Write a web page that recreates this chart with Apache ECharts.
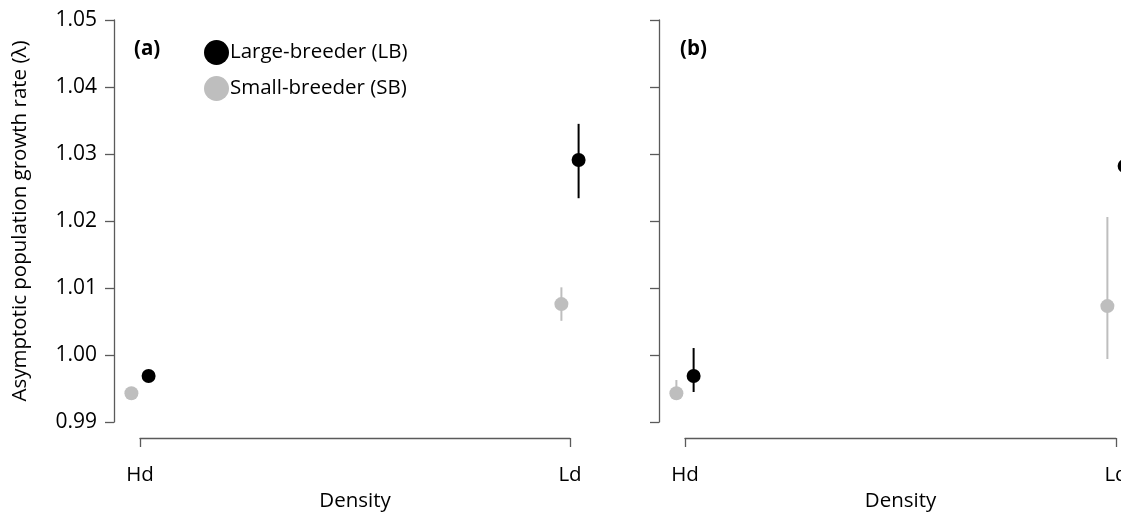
<!DOCTYPE html>
<html>
<head>
<meta charset="utf-8">
<script src="https://cdn.jsdelivr.net/npm/echarts@6/dist/echarts.min.js"></script>
<style>
  html, body { margin: 0; padding: 0; background: #fff; }
  #chart { width: 1121px; height: 512px; }
</style>
</head>
<body>
<div id="chart"></div>
<script>
// categories and tick labels
const densityLabels = ['Hd', 'Ld'];
const yTicks = [0.99, 1.00, 1.01, 1.02, 1.03, 1.04, 1.05];
const panelTags = ['(a)', '(b)'];
const groupNames = ['Large-breeder (LB)', 'Small-breeder (SB)'];

// panel (a): lambda, lower, upper  (Hd, Ld)
const lbA = [0.99687, 1.0291];
const lbALo = [0.9963, 1.0234];
const lbAHi = [0.9974, 1.0345];
const sbA = [0.9943, 1.0076];
const sbALo = [0.9938, 1.0051];
const sbAHi = [0.9948, 1.0101];

// panel (b)
const lbB = [0.99687, 1.0282];
const lbBLo = [0.99448, 1.0225];
const lbBHi = [1.00104, 1.0340];
const sbB = [0.9943, 1.0073];
const sbBLo = [0.9936, 0.9994];
const sbBHi = [0.99627, 1.0206];

const LB_COLOR = '#000000';
const SB_COLOR = '#bebebe';
const AXIS_COLOR = '#5a5a5a';
const FONT = 'Open Sans';
const FS = 20.5;
const JIT = 0.02; // small horizontal dodge between the two groups

const chart = echarts.init(document.getElementById('chart'), null, { renderer: 'canvas' });

function pts(vals, dx) {
  return vals.map((v, i) => [i + 1 + dx, v]);
}
function bars(lo, hi, dx) {
  return lo.map((v, i) => [i + 1 + dx, v, hi[i]]);
}

function errRender(color) {
  return function (params, api) {
    const a = api.coord([api.value(0), api.value(1)]);
    const b = api.coord([api.value(0), api.value(2)]);
    return {
      type: 'line',
      shape: { x1: a[0], y1: a[1], x2: b[0], y2: b[1] },
      style: { stroke: color, lineWidth: 2 }
    };
  };
}

function xAxisFor(idx) {
  return {
    type: 'value', gridIndex: idx, min: 1, max: 2, interval: 1, offset: 16,
    name: 'Density', nameLocation: 'middle', nameGap: 52,
    nameTextStyle: { fontFamily: FONT, fontSize: FS, color: '#000' },
    axisLine: { show: true, lineStyle: { color: AXIS_COLOR, width: 1.3 } },
    axisTick: { show: true, length: 9, lineStyle: { color: AXIS_COLOR, width: 1.3 } },
    axisLabel: {
      margin: 27, fontFamily: FONT, fontSize: FS, color: '#000',
      formatter: v => densityLabels[Math.round(v) - 1] || ''
    },
    splitLine: { show: false }
  };
}

function yAxisFor(idx, showLabels) {
  return {
    type: 'value', gridIndex: idx, min: yTicks[0], max: yTicks[yTicks.length - 1],
    interval: 0.01, offset: 26,
    name: showLabels ? 'Asymptotic population growth rate (λ)' : '',
    nameLocation: 'middle', nameGap: 83,
    nameTextStyle: { fontFamily: FONT, fontSize: FS, color: '#000' },
    axisLine: { show: true, lineStyle: { color: AXIS_COLOR, width: 1.3 } },
    axisTick: { show: true, length: 9, lineStyle: { color: AXIS_COLOR, width: 1.3 } },
    axisLabel: {
      show: showLabels, margin: 17, fontFamily: FONT, fontSize: 21, color: '#000',
      formatter: v => v.toFixed(2)
    },
    splitLine: { show: false }
  };
}

const panels = [
  { lb: lbA, lbLo: lbALo, lbHi: lbAHi, sb: sbA, sbLo: sbALo, sbHi: sbAHi },
  { lb: lbB, lbLo: lbBLo, lbHi: lbBHi, sb: sbB, sbLo: sbBLo, sbHi: sbBHi }
];

const series = [];
panels.forEach((p, i) => {
  series.push({
    name: 'sb-err-' + i, type: 'custom', xAxisIndex: i, yAxisIndex: i,
    data: bars(p.sbLo, p.sbHi, -JIT), encode: { x: 0, y: [1, 2] },
    renderItem: errRender(SB_COLOR), clip: false, z: 2
  });
  series.push({
    name: 'lb-err-' + i, type: 'custom', xAxisIndex: i, yAxisIndex: i,
    data: bars(p.lbLo, p.lbHi, JIT), encode: { x: 0, y: [1, 2] },
    renderItem: errRender(LB_COLOR), clip: false, z: 2
  });
  series.push({
    name: groupNames[1], type: 'scatter', xAxisIndex: i, yAxisIndex: i,
    data: pts(p.sb, -JIT), symbol: 'circle', symbolSize: 14,
    itemStyle: { color: SB_COLOR, opacity: 1 }, clip: false, z: 3
  });
  series.push({
    name: groupNames[0], type: 'scatter', xAxisIndex: i, yAxisIndex: i,
    data: pts(p.lb, JIT), symbol: 'circle', symbolSize: 14,
    itemStyle: { color: LB_COLOR, opacity: 1 }, clip: false, z: 3
  });
});

const option = {
  backgroundColor: '#fff',
  animation: false,
  textStyle: { fontFamily: FONT },
  title: [
    { text: panelTags[0], left: 129, top: 34,
      textStyle: { fontFamily: FONT, fontSize: FS, fontWeight: 'bold', color: '#000' } },
    { text: panelTags[1], left: 675, top: 34,
      textStyle: { fontFamily: FONT, fontSize: FS, fontWeight: 'bold', color: '#000' } }
  ],
  legend: {
    data: [
      { name: groupNames[0], itemStyle: { color: LB_COLOR, opacity: 1 } },
      { name: groupNames[1], itemStyle: { color: SB_COLOR, opacity: 1 } }
    ],
    orient: 'vertical', left: 199, top: 35,
    icon: 'circle', itemWidth: 25, itemHeight: 25, itemGap: 11,
    textStyle: { fontFamily: FONT, fontSize: FS, color: '#000', padding: [0, 0, 0, -4] },
    selectedMode: false
  },
  grid: [
    { left: 140, top: 20, width: 430, height: 402, outerBoundsMode: 'none', containLabel: false },
    { left: 685, top: 20, width: 431, height: 402, outerBoundsMode: 'none', containLabel: false }
  ],
  xAxis: [xAxisFor(0), xAxisFor(1)],
  yAxis: [yAxisFor(0, true), yAxisFor(1, false)],
  series: series
};

chart.setOption(option);
</script>
</body>
</html>
